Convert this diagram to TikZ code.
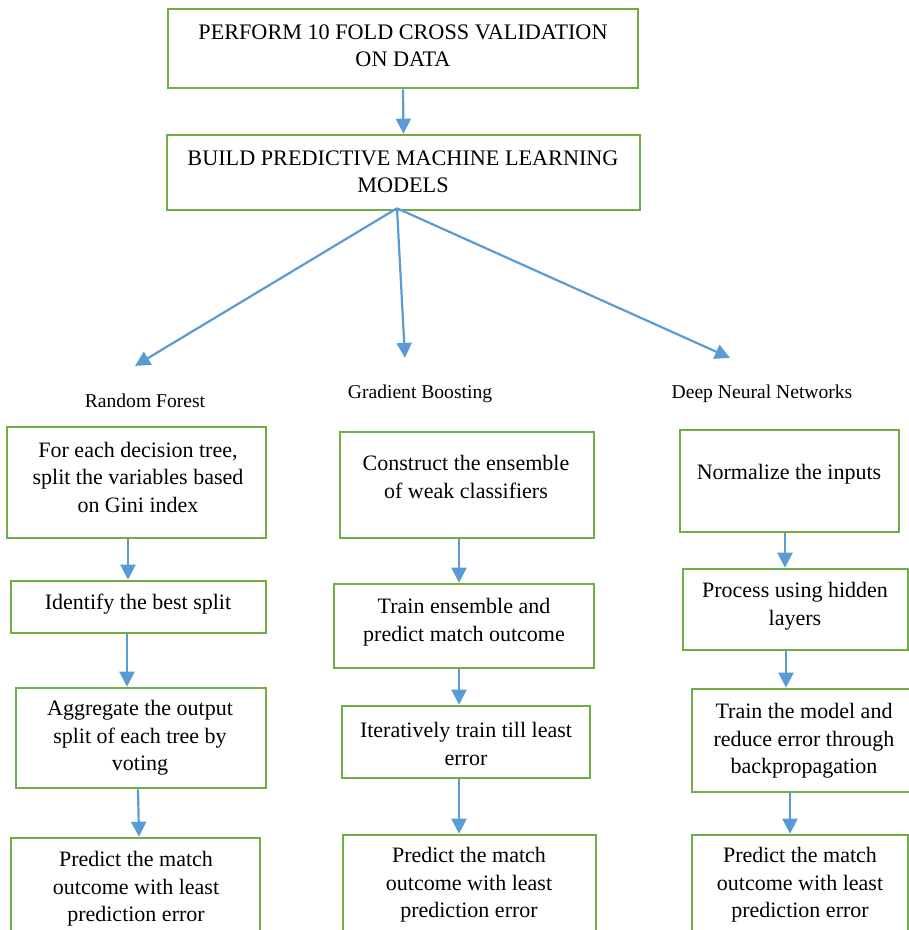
\documentclass[tikz,border=0pt]{standalone}
\usepackage{fontspec}
\setmainfont{Liberation Serif}
\usetikzlibrary{arrows.meta,calc}
\definecolor{boxgreen}{RGB}{112,173,71}
\definecolor{arrowblue}{RGB}{91,155,213}
\tikzset{
  stepbox/.style={draw=boxgreen, line width=2.6pt, inner sep=0pt},
  boxtext/.style={align=center, font=\fontsize{22}{27.5}\selectfont, inner sep=0pt},
  headtext/.style={align=center, font=\fontsize{22.2}{27}\selectfont, inner sep=0pt},
  branchlabel/.style={font=\fontsize{19.6}{22}\selectfont, inner sep=0pt},
  flow/.style={draw=arrowblue, line width=2.2pt, -{Triangle[width=15pt,length=15pt]}},
}
% box from corner (x1,y1) to (x2,y2), in pixel units with y pointing down
\newcommand{\flowbox}[5]{%
  \node[stepbox, minimum width={(#4-#2)*1pt}, minimum height={(#5-#3)*1pt}]
    (#1) at ({(#2+#4)/2},{(#3+#5)/2}) {};}
\begin{document}
\begin{tikzpicture}[x=1pt,y=-1pt]
\useasboundingbox (0,0) rectangle (909,930);
\clip (0,0) rectangle (909,930);

% top of the flow
\flowbox{cv}{168}{9}{638}{88}
\node[headtext] (cvt) at (403,46) {PERFORM 10 FOLD CROSS VALIDATION\\ON DATA};
\flowbox{build}{167}{135}{640}{210}
\node[headtext] (buildt) at (403,172) {BUILD PREDICTIVE MACHINE LEARNING\\MODELS};

% the three model families
\node[branchlabel] (rf) at (145,401) {Random Forest};
\node[branchlabel] (gb) at (420,394) {Gradient Boosting};
\node[branchlabel] (dnn) at (762,394) {Deep Neural Networks};

% Random Forest column
\flowbox{a1}{7}{427}{266}{538}
\node[boxtext] (a1t) at (138,477) {For each decision tree,\\split the variables based\\on Gini index};
\flowbox{a2}{11}{581}{266}{633}
\node[boxtext] (a2t) at (138,604) {Identify the best split};
\flowbox{a3}{16}{688}{266}{788}
\node[boxtext] (a3t) at (140,738) {Aggregate the output\\split of each tree by\\voting};
\flowbox{a4}{11}{838}{260}{950}
\node[boxtext] (a4t) at (136,889) {Predict the match\\outcome with least\\prediction error};

% Gradient Boosting column
\flowbox{b1}{340}{432}{594}{538}
\node[boxtext] (b1t) at (466,477) {Construct the ensemble\\of weak classifiers};
\flowbox{b2}{334}{584}{594}{668}
\node[boxtext] (b2t) at (464,622) {Train ensemble and\\predict match outcome};
\flowbox{b3}{342}{706}{590}{778}
\node[boxtext] (b3t) at (466,744) {Iteratively train till least\\error};
\flowbox{b4}{343}{835}{596}{950}
\node[boxtext] (b4t) at (469,885) {Predict the match\\outcome with least\\prediction error};

% Deep Neural Networks column
\flowbox{c1}{680}{430}{899}{532}
\node[boxtext] (c1t) at (789,474) {Normalize the inputs};
\flowbox{c2}{683}{569}{908}{650}
\node[boxtext] (c2t) at (795,606) {Process using hidden\\layers};
\flowbox{c3}{692}{689}{914}{792}
\node[boxtext] (c3t) at (804,741) {Train the model and\\reduce error through\\backpropagation};
\flowbox{c4}{692}{835}{908}{950}
\node[boxtext] (c4t) at (800,885) {Predict the match\\outcome with least\\prediction error};

% connectors
\draw[flow] (cv.south) -- (build.north);
\coordinate (apex) at ($(build.south)+(-6.5,-3)$);
\coordinate (rfend) at ($(rf.north)+(-10,-28)$);
\coordinate (gbend) at ($(gb.north)+(-15,-27)$);
\coordinate (dnnend) at ($(dnn.north)+(-32,-27)$);
\draw[flow] (apex) -- (rfend);
\draw[flow] (apex) -- (gbend);
\draw[flow] (apex) -- (dnnend);

\draw[flow] ([xshift=-8.5pt]a1.south) -- ([xshift=-8.5pt]a1.south |- a2.north);
\draw[flow] ([xshift=-11.5pt]a2.south) -- ([xshift=-11.5pt]a2.south |- a3.north);
\draw[flow] ([xshift=-3pt]a3.south) -- ([xshift=-2pt]a3.south |- a4.north);

\draw[flow] ([xshift=-8pt]b1.south) -- ([xshift=-8pt]b1.south |- b2.north);
\draw[flow] ([xshift=-5pt]b2.south) -- ([xshift=-5pt]b2.south |- b3.north);
\draw[flow] ([xshift=-7pt]b3.south) -- ([xshift=-7pt]b3.south |- b4.north);

\draw[flow] ([xshift=-4.5pt]c1.south) -- ([xshift=-4.5pt]c1.south |- c2.north);
\draw[flow] ([xshift=-9.5pt]c2.south) -- ([xshift=-9.5pt]c2.south |- c3.north);
\draw[flow] ([xshift=-13pt]c3.south) -- ([xshift=-13pt]c3.south |- c4.north);
\end{tikzpicture}
\end{document}
